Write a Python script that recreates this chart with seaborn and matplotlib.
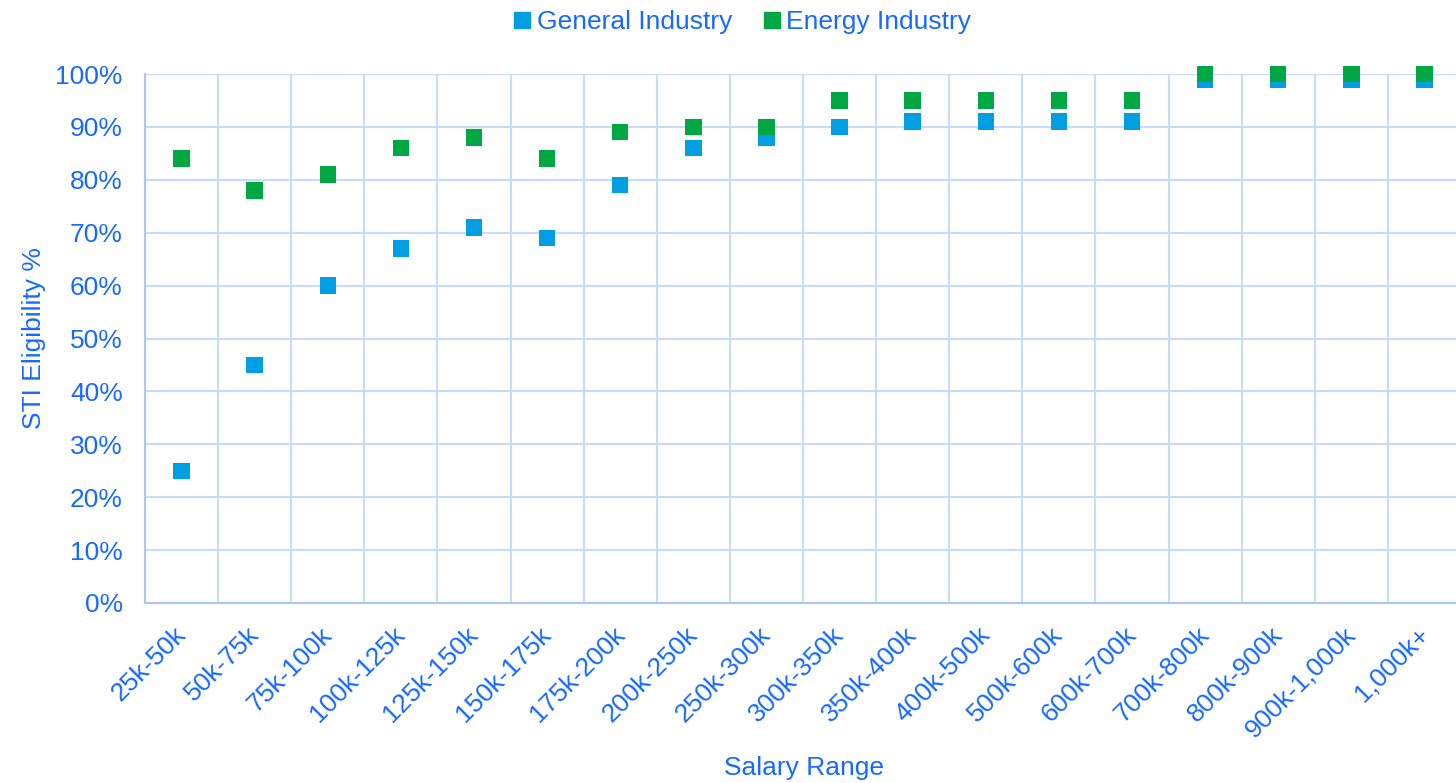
import matplotlib
matplotlib.use("Agg")
import matplotlib.pyplot as plt
import seaborn as sns
import pandas as pd
from matplotlib.ticker import FixedLocator, PercentFormatter
from matplotlib.lines import Line2D

categories = ["25k-50k", "50k-75k", "75k-100k", "100k-125k", "125k-150k", "150k-175k",
              "175k-200k", "200k-250k", "250k-300k", "300k-350k", "350k-400k", "400k-500k",
              "500k-600k", "600k-700k", "700k-800k", "800k-900k", "900k-1,000k", "1,000k+"]
general = [25, 45, 60, 67, 71, 69, 79, 86, 88, 90, 91, 91, 91, 91, 99, 99, 99, 99]
energy = [84, 78, 81, 86, 88, 84, 89, 90, 90, 95, 95, 95, 95, 95, 100, 100, 100, 100]
series_names = ["General Industry", "Energy Industry"]

BLUE = "#009FE3"
GREEN = "#00A843"
TEXT = "#1769FF"
GRID = "#C9DBFB"
SPINE = "#ABC6F7"

sns.set_style("white")
plt.rcParams["font.family"] = ["Liberation Sans", "DejaVu Sans"]

rows = []
for i, c in enumerate(categories):
    rows.append({"x": i, "Salary Range": c, "value": general[i], "series": series_names[0]})
for i, c in enumerate(categories):
    rows.append({"x": i, "Salary Range": c, "value": energy[i], "series": series_names[1]})
df = pd.DataFrame(rows)

fig = plt.figure(figsize=(14.56, 7.83), dpi=100)
W, H = 1456, 783
left, right, top, bottom = 145, 1461, 74, 603
ax = fig.add_axes([left / W, 1 - bottom / H, (right - left) / W, (bottom - top) / H])

sns.scatterplot(data=df, x="x", y="value", hue="series", palette=[BLUE, GREEN],
                marker="s", s=140, linewidth=0, ax=ax, legend=False, zorder=3, clip_on=False)

ax.set_xlim(-0.5, len(categories) - 0.5)
ax.set_ylim(0, 100)
ax.set_xticks(range(len(categories)))
ax.set_xticklabels(categories, rotation=45, ha="right", rotation_mode="anchor")
ax.xaxis.set_minor_locator(FixedLocator([i + 0.5 for i in range(-1, len(categories))]))
ax.set_yticks(range(0, 101, 10))
ax.yaxis.set_major_formatter(PercentFormatter(decimals=0))

ax.grid(False)
ax.grid(True, which="minor", axis="x", color=GRID, linewidth=1.5)
ax.grid(True, which="major", axis="y", color=GRID, linewidth=1.5)
ax.set_axisbelow(True)

ax.tick_params(axis="x", which="both", length=0, labelsize=19, labelcolor=TEXT, pad=14)
ax.tick_params(axis="y", which="both", length=0, labelsize=19, labelcolor=TEXT, pad=16)
for lab in ax.get_xticklabels():
    lab.set_transform(lab.get_transform() + matplotlib.transforms.ScaledTranslation(-0.08, 0, fig.dpi_scale_trans))

for s in ["top", "right"]:
    ax.spines[s].set_visible(False)
for s in ["left", "bottom"]:
    ax.spines[s].set_color(SPINE)
    ax.spines[s].set_linewidth(1.5)

ax.set_xlabel("Salary Range", fontsize=19, color=TEXT)
ax.xaxis.set_label_coords((804 - left) / (right - left), -(756 - bottom) / (bottom - top))
ax.set_ylabel("STI Eligibility %", fontsize=19, color=TEXT)
ax.yaxis.set_label_coords(-(145 - 46) / (right - left), 0.5)

handles = [Line2D([0], [0], marker="s", linestyle="", markersize=11, color=BLUE),
           Line2D([0], [0], marker="s", linestyle="", markersize=11, color=GREEN)]
leg = fig.legend(handles, series_names, loc="center", bbox_to_anchor=(740 / W, 1 - 22 / H),
                 ncol=2, frameon=False, fontsize=19, handletextpad=0.05, columnspacing=1.0,
                 handlelength=1.0)
for t in leg.get_texts():
    t.set_color(TEXT)

fig.savefig("out.png", dpi=100)
